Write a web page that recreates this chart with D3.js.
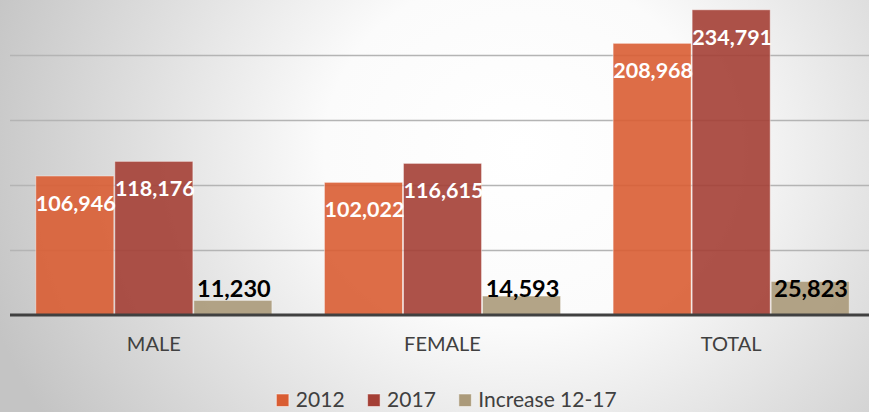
<!DOCTYPE html>
<html><head><meta charset="utf-8">
<script src="https://cdn.jsdelivr.net/npm/d3@7"></script>
<style>html,body{margin:0;padding:0;background:#fff;}svg{display:block;}</style>
</head><body>
<script>
const categories = ["MALE", "FEMALE", "TOTAL"];
const seriesNames = ["2012", "2017", "Increase 12-17"];
const values2012 = [106946, 102022, 208968];
const values2017 = [118176, 116615, 234791];
const valuesIncrease = [11230, 14593, 25823];
const gridTicks = [50000, 100000, 150000, 200000, 250000];
const colors = ["#d95d33", "#a43f35", "#ab9a7a"];

const W = 869, H = 412;
const svg = d3.select("body").append("svg").attr("width", W).attr("height", H);
const defs = svg.append("defs");
const grad = defs.append("radialGradient").attr("id", "bg")
  .attr("gradientUnits", "userSpaceOnUse")
  .attr("cx", 520).attr("cy", 150).attr("r", 560)
  .attr("gradientTransform", "translate(520,150) scale(1,0.9) translate(-520,-150)");
grad.append("stop").attr("offset", "0").attr("stop-color", "#ffffff");
grad.append("stop").attr("offset", "0.35").attr("stop-color", "#fbfbfb");
grad.append("stop").attr("offset", "1").attr("stop-color", "#c4c4c4");
svg.append("rect").attr("width", W).attr("height", H).attr("fill", "url(#bg)");

const font = "Lato, 'Open Sans', sans-serif";
const x0 = d3.scaleBand().domain(categories).range([9.5, 875.5]).paddingInner(0).paddingOuter(0);
const inner = 0.818; // fraction of band used by bars
const x1 = d3.scaleBand().domain(seriesNames)
  .range([0, x0.bandwidth() * inner]).paddingInner(0.012);
const y = d3.scaleLinear().domain([0, 250000]).range([315, -10]);

// gridlines
const gAxis = svg.append("g").attr("transform", "translate(10,0)")
  .call(d3.axisLeft(y).tickValues(gridTicks).tickSize(-(W - 10)).tickFormat(""));
gAxis.select(".domain").remove();
gAxis.selectAll(".tick line").attr("stroke", "#b4b4b4").attr("stroke-width", 1.3);

const data = categories.map((c, i) => ({
  cat: c,
  vals: [values2012[i], values2017[i], valuesIncrease[i]]
}));

const groups = svg.append("g").selectAll("g").data(data).join("g")
  .attr("transform", d => `translate(${x0(d.cat) + x0.bandwidth() * (1 - inner) / 2},0)`);

groups.selectAll("rect").data(d => d.vals.map((v, j) => ({v, s: seriesNames[j], j})))
  .join("rect")
  .attr("x", d => x1(d.s))
  .attr("width", x1.bandwidth())
  .attr("y", d => y(d.v))
  .attr("height", d => y(0) - y(d.v))
  .attr("fill", d => colors[d.j])
  .attr("fill-opacity", 0.9)
  .attr("stroke", "rgba(255,255,255,0.45)")
  .attr("stroke-width", 1);

// axis baseline
svg.append("g").attr("transform", `translate(0,${y(0)})`)
  .call(d3.axisBottom(x0).tickSize(0).tickPadding(22))
  .call(g => g.select(".domain").attr("d", `M10,0H${W}`).attr("stroke", "#404040").attr("stroke-width", 3))
  .call(g => g.selectAll("text").attr("font-family", font).attr("font-size", 20).attr("fill", "#404040"));

// value labels
const fmt = d3.format(",");
groups.selectAll("text.val").data(d => d.vals.map((v, j) => ({v, s: seriesNames[j], j})))
  .join("text").attr("class", "val")
  .attr("x", d => x1(d.s) + x1.bandwidth() / 2 + 1)
  .attr("y", d => d.j < 2 ? y(d.v) + 35 : y(0) - 18)
  .attr("text-anchor", "middle")
  .attr("font-family", font).attr("font-weight", "bold")
  .attr("font-size", d => d.j < 2 ? 21.5 : 23.5)
  .attr("fill", d => d.j < 2 ? "#ffffff" : "#000000")
  .text(d => fmt(d.v));

// legend
const legend = svg.append("g");
let lx = 0;
const items = legend.selectAll("g").data(seriesNames).join("g");
items.append("rect").attr("y", -13).attr("width", 12.5).attr("height", 12.5)
  .attr("fill", (d, i) => colors[i]).attr("stroke", "rgba(255,255,255,0.5)");
items.append("text").attr("x", 19.5).attr("y", 0)
  .attr("font-family", font).attr("font-size", 21).attr("fill", "#404040").text(d => d);
items.each(function () {
  d3.select(this).attr("transform", `translate(${lx},0)`);
  lx += 19.5 + d3.select(this).select("text").node().getComputedTextLength() + 23;
});
const total = lx - 23;
legend.attr("transform", `translate(${446.5 - total / 2},407)`);
</script>
</body></html>
